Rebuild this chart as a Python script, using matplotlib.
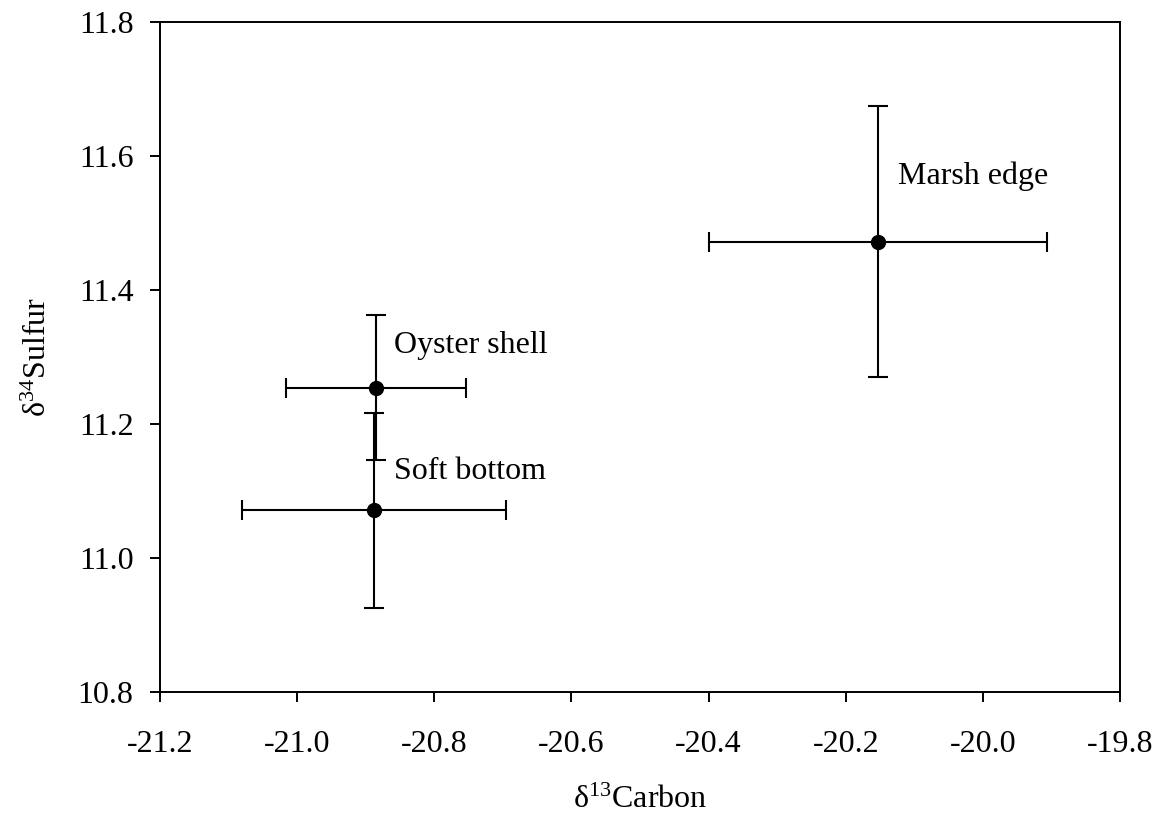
import matplotlib
matplotlib.use("Agg")
import matplotlib.pyplot as plt

plt.rcParams['font.family'] = ['Liberation Serif', 'DejaVu Serif']
plt.rcParams['mathtext.fontset'] = 'custom'
plt.rcParams['mathtext.rm'] = 'Liberation Serif'
plt.rcParams['mathtext.it'] = 'Liberation Serif'

# habitat means with +/- error
sites = ['Marsh edge', 'Oyster shell', 'Soft bottom']
carbon = [-20.153, -20.885, -20.888]
sulfur = [11.472, 11.254, 11.071]
carbon_err = [0.246, 0.131, 0.192]
sulfur_err = [0.202, 0.108, 0.145]

x_ticks = [-21.2, -21.0, -20.8, -20.6, -20.4, -20.2, -20.0, -19.8]
y_ticks = [10.8, 11.0, 11.2, 11.4, 11.6, 11.8]

# label offsets (pixels) from each point
label_offsets = [(20, 66), (18, 42), (20, 39)]

fig = plt.figure(figsize=(11.69, 8.23), dpi=100)
ax = fig.add_axes([160/1169, 131/823, 960/1169, 670/823])

ax.errorbar(carbon, sulfur, xerr=carbon_err, yerr=sulfur_err, fmt='o',
            color='black', ms=10, elinewidth=1.5, capsize=7.5, capthick=1.5)

for name, cx, sy, off in zip(sites, carbon, sulfur, label_offsets):
    ax.annotate(name, (cx, sy), xytext=off, textcoords='offset pixels',
                ha='left', va='center', fontsize=23)

ax.set_xlim(-21.2, -19.8)
ax.set_ylim(10.8, 11.8)
ax.set_xticks(x_ticks)
ax.set_yticks(y_ticks)
ax.set_xticklabels([f'{v:.1f}' for v in x_ticks])
ax.set_yticklabels([f'{v:.1f}' for v in y_ticks])
ax.tick_params(direction='out', length=7, width=1.4, labelsize=23,
               top=False, right=False)
ax.tick_params(axis='x', pad=20)
ax.tick_params(axis='y', pad=12)
for sp in ax.spines.values():
    sp.set_linewidth(1.4)

ax.set_xlabel(r'$\mathrm{\delta^{13}Carbon}$', fontsize=23, labelpad=20)
ax.set_ylabel(r'$\mathrm{\delta^{34}Sulfur}$', fontsize=23, labelpad=18)

fig.savefig('out.png', dpi=100)
